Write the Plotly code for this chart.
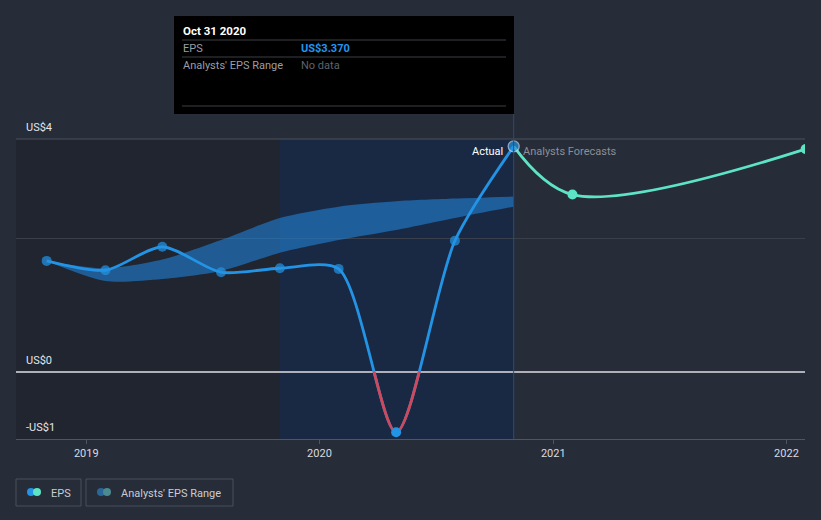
import plotly.graph_objects as go

# ---------------- data ----------------
eps_dates = ["2018-10-31", "2019-01-31", "2019-04-30", "2019-07-31", "2019-10-31",
             "2020-01-31", "2020-04-30", "2020-07-31", "2020-10-31"]
eps_values = [1.66, 1.52, 1.87, 1.49, 1.55, 1.54, -0.90, 1.96, 3.37]

fc_dates = ["2020-10-31", "2021-01-31", "2022-01-31"]
fc_values = [3.37, 2.65, 3.33]

band_dates = ["2018-10-31", "2019-01-31", "2019-04-30", "2019-07-31", "2019-10-31",
              "2020-01-31", "2020-04-30", "2020-07-31", "2020-10-31"]
band_low = [1.66, 1.36, 1.39, 1.51, 1.78, 1.97, 2.12, 2.30, 2.47]
band_high = [1.66, 1.55, 1.68, 1.97, 2.30, 2.47, 2.55, 2.59, 2.62]

x_ticks = ["2019-01-01", "2020-01-01", "2021-01-01", "2022-01-01"]
x_tick_labels = ["2019", "2020", "2021", "2022"]
y_labels = ["US$4", "US$0", "-US$1"]
y_label_vals = [3.48, 0, -1]

# ---------------- layout constants ----------------
W, H = 821, 520
PX_L, PX_R, PX_T, PX_B = 16, 805, 139, 439
Y_MIN, Y_MAX = -1.0, 3.48
X_RANGE = ["2018-09-13", "2022-01-30"]

BG = "#262c38"
BLUE = "#2394e5"
RED = "#d0485a"
TEAL = "#5de4c7"
FONT = "Roboto"
SMOOTH = 0.75
LW = 2.8


def fx(px):
    return px / W


def fy(py):
    return 1 - py / H


ydom = [fy(PX_B), fy(PX_T)]
zero_frac = ydom[0] + (0 - Y_MIN) / (Y_MAX - Y_MIN) * (ydom[1] - ydom[0])

fig = go.Figure()

# analyst range band
fig.add_trace(go.Scatter(x=band_dates, y=band_low, mode="lines",
                         line=dict(width=0, shape="spline", smoothing=SMOOTH),
                         showlegend=False, hoverinfo="skip"))
fig.add_trace(go.Scatter(x=band_dates, y=band_high, mode="lines",
                         line=dict(width=0, shape="spline", smoothing=SMOOTH), fill="tonexty",
                         fillcolor="rgba(34,130,215,0.6)", showlegend=False,
                         hoverinfo="skip"))

# forecast line
fig.add_trace(go.Scatter(x=fc_dates, y=fc_values, mode="lines",
                         line=dict(color=TEAL, width=LW, shape="spline", smoothing=1.0),
                         showlegend=False))
fig.add_trace(go.Scatter(x=fc_dates[1:], y=fc_values[1:], mode="markers",
                         marker=dict(color=TEAL, size=10), showlegend=False))

# EPS line (blue)
fig.add_trace(go.Scatter(x=eps_dates, y=eps_values, mode="lines",
                         line=dict(color=BLUE, width=LW, shape="spline", smoothing=SMOOTH),
                         showlegend=False))

# EPS markers (non-negative points on main subplot)
n = len(eps_values)
pos_idx = [i for i in range(n) if eps_values[i] >= 0]
neg_idx = [i for i in range(n) if eps_values[i] < 0]
sizes = [11 if i == n - 1 else 10 for i in pos_idx]
line_cols = ["#bcdcf7" if i == n - 1 else BLUE for i in pos_idx]
line_w = [1.3 if i == n - 1 else 0 for i in pos_idx]
fig.add_trace(go.Scatter(x=[eps_dates[i] for i in pos_idx], y=[eps_values[i] for i in pos_idx],
                         mode="markers",
                         marker=dict(color=BLUE, size=sizes,
                                     line=dict(color=line_cols, width=line_w)),
                         showlegend=False))

# EPS line again on the negative-only subplot (red, clipped below zero)
fig.add_trace(go.Scatter(x=eps_dates, y=eps_values, mode="lines",
                         line=dict(color=RED, width=LW, shape="spline", smoothing=SMOOTH),
                         xaxis="x", yaxis="y2", showlegend=False))
fig.add_trace(go.Scatter(x=[eps_dates[i] for i in neg_idx], y=[eps_values[i] for i in neg_idx],
                         mode="markers", marker=dict(color=BLUE, size=10),
                         xaxis="x", yaxis="y2", cliponaxis=False, showlegend=False))

shapes = []
# background regions
shapes.append(dict(type="rect", xref="x", yref="paper", x0=X_RANGE[0], x1="2019-10-31",
                   y0=ydom[0], y1=ydom[1], fillcolor="#20252f", line_width=0, layer="below"))
shapes.append(dict(type="rect", xref="x", yref="paper", x0="2019-10-31", x1="2020-10-31",
                   y0=ydom[0], y1=ydom[1], fillcolor="#1a2943", line_width=0, layer="below"))
# top border line
shapes.append(dict(type="line", xref="paper", yref="paper", x0=fx(PX_L), x1=fx(PX_R),
                   y0=ydom[1], y1=ydom[1], line=dict(color="#4b515c", width=1)))
# vertical "now" line
shapes.append(dict(type="line", xref="x", yref="paper", x0="2020-10-31", x1="2020-10-31",
                   y0=ydom[0], y1=fy(114), line=dict(color="#2c4c78", width=1)))

# tooltip box
shapes.append(dict(type="rect", xref="paper", yref="paper", x0=fx(174), x1=fx(514),
                   y0=fy(114), y1=fy(16), fillcolor="#000000", line_width=0))
for py in (40, 57, 106):
    shapes.append(dict(type="line", xref="paper", yref="paper", x0=fx(182), x1=fx(506),
                       y0=fy(py), y1=fy(py), line=dict(color="#3d3f44", width=1)))

# legend boxes
for x0, x1 in ((16, 81), (86, 233)):
    shapes.append(dict(type="rect", xref="paper", yref="paper", x0=fx(x0), x1=fx(x1),
                       y0=fy(506), y1=fy(479), line=dict(color="#4a505b", width=1),
                       fillcolor="rgba(0,0,0,0)"))
for cx, col in ((31, BLUE), (37, TEAL), (101, "#2b6699"), (107, "#4a8a90")):
    shapes.append(dict(type="circle", xref="paper", yref="paper",
                       x0=fx(cx - 4), x1=fx(cx + 4), y0=fy(496), y1=fy(488),
                       fillcolor=col, line_width=0))

annotations = []
# y labels
for txt, v in zip(y_labels, y_label_vals):
    annotations.append(dict(text=txt, xref="paper", yref="y", x=fx(24), y=v,
                            xanchor="left", yanchor="bottom", yshift=3, showarrow=False,
                            font=dict(family=FONT, size=11, color="#e3e6ea")))
# actual / forecast labels
annotations.append(dict(text="Actual", xref="paper", yref="paper", x=fx(505), y=fy(151),
                        xanchor="right", yanchor="middle", showarrow=False,
                        font=dict(family=FONT, size=11, color="#ffffff")))
annotations.append(dict(text="Analysts Forecasts", xref="paper", yref="paper", x=fx(521),
                        y=fy(151), xanchor="left", yanchor="middle", showarrow=False,
                        font=dict(family=FONT, size=11, color="#8a8f97")))
# tooltip texts
annotations.append(dict(text="<b>Oct 31 2020</b>", xref="paper", yref="paper", x=fx(181),
                        y=fy(31), xanchor="left", yanchor="middle", showarrow=False,
                        font=dict(family=FONT, size=11.5, color="#ffffff")))
annotations.append(dict(text="EPS", xref="paper", yref="paper", x=fx(181), y=fy(48),
                        xanchor="left", yanchor="middle", showarrow=False,
                        font=dict(family=FONT, size=11, color="#9a9ea5")))
annotations.append(dict(text="<b>US$3.370</b>", xref="paper", yref="paper", x=fx(299),
                        y=fy(48), xanchor="left", yanchor="middle", showarrow=False,
                        font=dict(family=FONT, size=11, color="#2196f3")))
annotations.append(dict(text="Analysts' EPS Range", xref="paper", yref="paper", x=fx(181),
                        y=fy(65), xanchor="left", yanchor="middle", showarrow=False,
                        font=dict(family=FONT, size=11, color="#9a9ea5")))
annotations.append(dict(text="No data", xref="paper", yref="paper", x=fx(299), y=fy(65),
                        xanchor="left", yanchor="middle", showarrow=False,
                        font=dict(family=FONT, size=11, color="#5f636a")))
# legend texts
annotations.append(dict(text="EPS", xref="paper", yref="paper", x=fx(49), y=fy(493),
                        xanchor="left", yanchor="middle", showarrow=False,
                        font=dict(family=FONT, size=11, color="#c9cdd3")))
annotations.append(dict(text="Analysts' EPS Range", xref="paper", yref="paper", x=fx(119),
                        y=fy(493), xanchor="left", yanchor="middle", showarrow=False,
                        font=dict(family=FONT, size=11, color="#c9cdd3")))

fig.update_layout(
    width=W, height=H,
    margin=dict(l=0, r=0, t=0, b=0),
    paper_bgcolor=BG, plot_bgcolor="rgba(0,0,0,0)",
    hovermode=False, showlegend=False,
    font=dict(family=FONT, size=11, color="#d8dbe0"),
    xaxis=dict(type="date", domain=[fx(PX_L), fx(PX_R)], range=X_RANGE,
               tickvals=x_ticks, ticktext=x_tick_labels, showgrid=False,
               ticks="outside", ticklen=4, tickcolor="#50555f",
               showline=True, linecolor="#50555f", linewidth=1,
               tickfont=dict(family=FONT, size=11, color="#d8dbe0"),
               zeroline=False, fixedrange=True, anchor="y"),
    yaxis=dict(domain=ydom, range=[Y_MIN, Y_MAX], tickvals=[2],
               showticklabels=False, showgrid=True, gridcolor="#3a404b", gridwidth=1,
               zeroline=True, zerolinecolor="#aeb2b8", zerolinewidth=1.5,
               showline=False, fixedrange=True, anchor="x"),
    yaxis2=dict(domain=[ydom[0], zero_frac], range=[Y_MIN, 0], showticklabels=False,
                showgrid=False, zeroline=False, showline=False, fixedrange=True,
                anchor="x"),
    shapes=shapes, annotations=annotations,
)

fig.write_html("out.html")
